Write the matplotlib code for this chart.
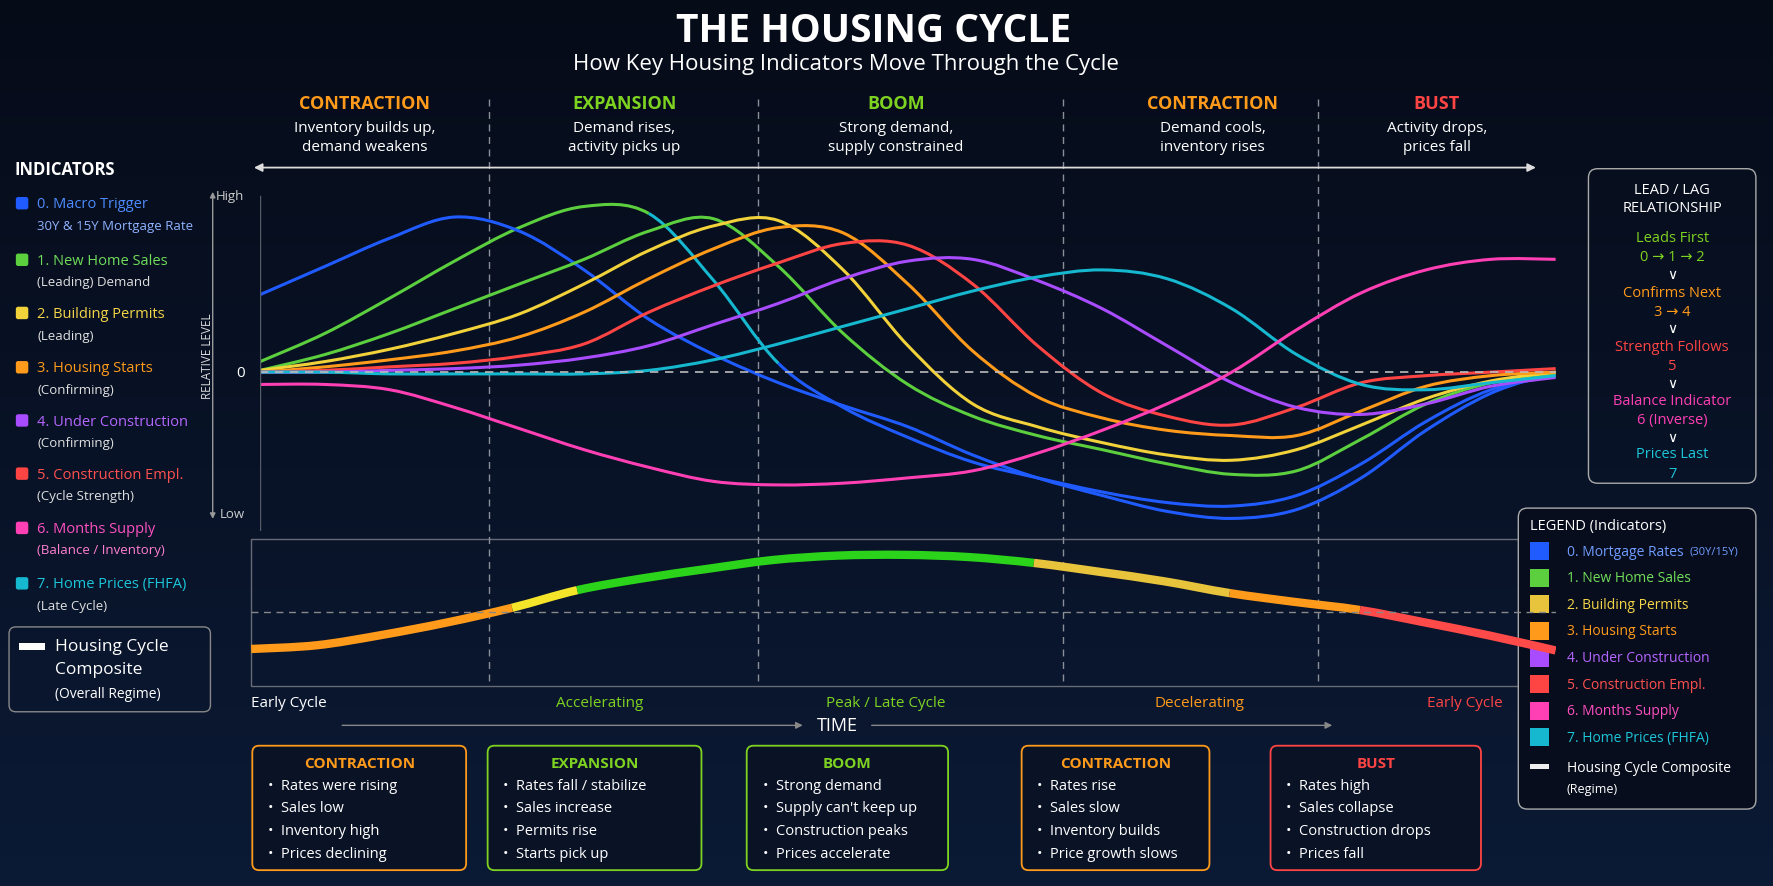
import numpy as np
import matplotlib
matplotlib.use("Agg")
import matplotlib.pyplot as plt
from matplotlib.patches import FancyBboxPatch, Rectangle, PathPatch
from matplotlib.path import Path

plt.rcParams['font.family'] = ['Open Sans', 'DejaVu Sans']

# ---- data (relative level) ----
t = [0, 5, 10, 15, 20, 25, 30, 35, 40, 45, 50, 55, 60, 65, 70, 75, 80, 85, 90, 95, 100]

mortgage = [.44, .6, .76, .88, .8, .58, .3, .1, -.06, -.19, -.31, -.47, -.6, -.7, -.79, -.83, -.78, -.6, -.33, -.12, .0]
sales_echo = [.06, .22, .42, .63, .82, .94, .9, .52, .05, -.2, -.37, -.51, -.6, -.68, -.74, -.76, -.7, -.52, -.28, -.1, -.02]
new_sales = [.01, .1, .22, .36, .5, .64, .8, .87, .6, .22, -.07, -.25, -.36, -.44, -.52, -.58, -.56, -.38, -.18, -.06, -.01]
permits = [.01, .06, .13, .22, .33, .5, .69, .83, .86, .58, .15, -.18, -.31, -.4, -.47, -.5, -.44, -.3, -.15, -.05, 0]
starts = [0, .03, .07, .12, .2, .34, .53, .7, .82, .79, .5, .12, -.14, -.26, -.33, -.36, -.36, -.22, -.08, -.02, 0]
under_constr = [0, 0, .01, .02, .04, .08, .15, .27, .39, .53, .63, .64, .52, .36, .15, -.06, -.2, -.24, -.18, -.08, -.03]
constr_empl = [0, .01, .03, .05, .09, .16, .34, .49, .62, .73, .72, .5, .15, -.12, -.25, -.3, -.2, -.06, -.02, 0, .02]
months_supply = [-.07, -.07, -.1, -.2, -.32, -.44, -.54, -.62, -.64, -.63, -.6, -.56, -.46, -.33, -.18, 0, .24, .45, .58, .64, .64]
home_prices = [0, 0, -.01, -.01, -.01, -.01, .01, .07, .16, .26, .36, .46, .54, .58, .53, .36, .1, -.07, -.1, -.06, -.02]

composite = [-.5, -.45, -.31, -.14, .06, .3, .46, .59, .71, .77, .78, .75, .67, .55, .42, .26, .14, .03, -.14, -.32, -.52]

BLUE, GREEN, YELLOW, ORANGE = '#1f5bff', '#5ccf3f', '#f2d23a', '#ff9a1a'
PURPLE, RED, PINK, TEAL = '#a94cff', '#ff4444', '#ff3fb4', '#16b8d0'
LGREEN = '#7ed321'

W, H = 1568, 784


def P(x, y):
    return x / W, 1 - y / H


def txt(x, y, s, **kw):
    kw.setdefault('color', 'white')
    kw.setdefault('ha', 'center')
    kw.setdefault('va', 'center')
    fig.text(*P(x, y), s, **kw)


def smooth(axis, xs, ys, a, b, color, lw):
    # Catmull-Rom through the data points, drawn as cubic Bezier segments
    verts, codes = [(xs[a], ys[a])], [Path.MOVETO]
    for i in range(a, b):
        p0 = (xs[max(i - 1, 0)], ys[max(i - 1, 0)])
        p1, p2 = (xs[i], ys[i]), (xs[i + 1], ys[i + 1])
        p3 = (xs[min(i + 2, len(xs) - 1)], ys[min(i + 2, len(xs) - 1)])
        c1 = (p1[0] + (p2[0] - p0[0]) / 6, p1[1] + (p2[1] - p0[1]) / 6)
        c2 = (p2[0] - (p3[0] - p1[0]) / 6, p2[1] - (p3[1] - p1[1]) / 6)
        verts += [c1, c2, p2]
        codes += [Path.CURVE4] * 3
    axis.add_patch(PathPatch(Path(verts, codes), fc='none', ec=color, lw=lw, capstyle='butt'))


fig = plt.figure(figsize=(17.74, 8.87), dpi=100)

bg = fig.add_axes([0, 0, 1, 1], zorder=-10)
grad = np.linspace(0, 1, 256).reshape(-1, 1)
bg.imshow(grad, aspect='auto', cmap=matplotlib.colors.LinearSegmentedColormap.from_list('bg', ['#060b18', '#0b1a35']),
          extent=[0, 1, 0, 1])
bg.axis('off')

ov = fig.add_axes([0, 0, 1, 1], zorder=-5)
ov.set_xlim(0, W)
ov.set_ylim(H, 0)
ov.axis('off')
ov.patch.set_alpha(0)

txt(772, 28, 'THE HOUSING CYCLE', fontsize=28, fontweight='bold')
txt(748, 57, 'How Key Housing Indicators Move Through the Cycle', fontsize=16)

phases = [(322, 'CONTRACTION', ORANGE, 'Inventory builds up,\ndemand weakens'),
          (552, 'EXPANSION', LGREEN, 'Demand rises,\nactivity picks up'),
          (792, 'BOOM', LGREEN, 'Strong demand,\nsupply constrained'),
          (1072, 'CONTRACTION', ORANGE, 'Demand cools,\ninventory rises'),
          (1270, 'BUST', RED, 'Activity drops,\nprices fall')]
for x, name, c, desc in phases:
    txt(x, 92, name, color=c, fontsize=13, fontweight='bold')
    txt(x, 122, desc, fontsize=11, linespacing=1.4)

ov.annotate('', xy=(222, 149), xytext=(1360, 149),
            arrowprops=dict(arrowstyle='<|-|>', color='#dddddd', lw=1.3, mutation_scale=12))
for x in [432, 670, 940, 1165]:
    ov.plot([x, x], [88, 607], ls=(0, (5, 4)), color='#8a8f99', lw=1)

ax = fig.add_axes([230 / W, 1 - 470 / H, (1375 - 230) / W, 310 / H])
ax.set_xlim(0, 100)
ax.set_ylim(-0.9, 1.09)
ax.axis('off')
ax.patch.set_alpha(0)
ax.axhline(0, color='#bbbbbb', ls=(0, (5, 4)), lw=1.2)
ax.plot([0, 0], [-0.9, 1.0], color='#555c66', lw=1)

n = len(t) - 1
smooth(ax, t, sales_echo, 0, 6, GREEN, 2.2)
smooth(ax, t, sales_echo, 6, 8, TEAL, 2.2)
smooth(ax, t, sales_echo, 8, n, BLUE, 2.2)
for ys, c in [(mortgage, BLUE), (new_sales, GREEN), (permits, YELLOW), (starts, ORANGE),
              (constr_empl, RED), (under_constr, PURPLE), (home_prices, TEAL), (months_supply, PINK)]:
    smooth(ax, t, ys, 0, n, c, 2.2)

txt(216, 174, 'High', fontsize=9.5, color='#cccccc', ha='right')
txt(216, 330, '0', fontsize=11, ha='right')
txt(216, 455, 'Low', fontsize=9.5, color='#cccccc', ha='right')
ov.annotate('', xy=(188, 168), xytext=(188, 462),
            arrowprops=dict(arrowstyle='<|-|>', color='#999999', lw=1, mutation_scale=8))
txt(183, 315, 'RELATIVE LEVEL', fontsize=8.5, rotation=90, color='#dddddd')

ov.add_patch(Rectangle((222, 477), 1153, 130, fill=False, ec='#666b75', lw=1))
cx = fig.add_axes([222 / W, 1 - 607 / H, 1153 / W, 130 / H])
cx.set_xlim(0, 100)
cx.set_ylim(-1.0, 1.0)
cx.axis('off')
cx.patch.set_alpha(0)
cx.axhline(0, color='#888888', ls=(0, (5, 4)), lw=1)
for a, b, c in [(0, 4, ORANGE), (4, 5, '#f5e52a'), (5, 12, '#2bd31a'), (12, 15, '#e8c33c'),
                (15, 17, ORANGE), (17, 20, '#ff4a4a')]:
    smooth(cx, t, composite, a, b, c, 6)

for x, s, c, ha in [(222, 'Early Cycle', 'white', 'left'), (530, 'Accelerating', LGREEN, 'center'),
                    (783, 'Peak / Late Cycle', LGREEN, 'center'), (1060, 'Decelerating', ORANGE, 'center'),
                    (1328, 'Early Cycle', RED, 'right')]:
    txt(x, 622, s, color=c, fontsize=11, ha=ha)
ov.annotate('', xy=(300, 642), xytext=(712, 642), arrowprops=dict(arrowstyle='<|-', color='#888888', lw=1))
ov.annotate('', xy=(1180, 642), xytext=(768, 642), arrowprops=dict(arrowstyle='-|>', color='#888888', lw=1))
txt(740, 642, 'TIME', fontsize=13)

boxes = [(223, 412, 'CONTRACTION', ORANGE, ['Rates were rising', 'Sales low', 'Inventory high', 'Prices declining']),
         (431, 620, 'EXPANSION', LGREEN, ['Rates fall / stabilize', 'Sales increase', 'Permits rise', 'Starts pick up']),
         (660, 838, 'BOOM', LGREEN, ['Strong demand', "Supply can't keep up", 'Construction peaks', 'Prices accelerate']),
         (903, 1069, 'CONTRACTION', ORANGE, ['Rates rise', 'Sales slow', 'Inventory builds', 'Price growth slows']),
         (1123, 1309, 'BUST', RED, ['Rates high', 'Sales collapse', 'Construction drops', 'Prices fall'])]
for x0, x1, name, c, items in boxes:
    ov.add_patch(FancyBboxPatch((x0, 660), x1 - x0, 110, boxstyle='round,pad=0,rounding_size=6',
                                fc='#0a1226', ec=c, lw=1.3))
    txt((x0 + x1) / 2, 675, name, color=c, fontsize=11, fontweight='bold')
    for i, it in enumerate(items):
        txt(x0 + 14, 695 + 20 * i, '•  ' + it, fontsize=10.5, ha='left')

txt(13, 150, 'INDICATORS', fontsize=12, fontweight='bold', ha='left')
left = [(181, BLUE, '#4d8cff', '0. Macro Trigger', '30Y & 15Y Mortgage Rate', '#8fb3ff'),
        (231, GREEN, '#6fdc5a', '1. New Home Sales', '(Leading) Demand', '#e0e0e0'),
        (278, YELLOW, '#f5d547', '2. Building Permits', '(Leading)', '#e0e0e0'),
        (326, ORANGE, ORANGE, '3. Housing Starts', '(Confirming)', '#e0e0e0'),
        (373, PURPLE, '#b566ff', '4. Under Construction', '(Confirming)', '#e0e0e0'),
        (420, RED, '#ff5050', '5. Construction Empl.', '(Cycle Strength)', '#e0e0e0'),
        (468, PINK, '#ff4fc0', '6. Months Supply', '(Balance / Inventory)', '#ff7fd0'),
        (517, TEAL, '#1cc6d9', '7. Home Prices (FHFA)', '(Late Cycle)', '#e0e0e0')]
for y, sq, c, name, sub, c2 in left:
    ov.add_patch(FancyBboxPatch((14, y - 6), 11, 11, boxstyle='round,pad=0,rounding_size=2', fc=sq, ec='none'))
    txt(33, y, name, color=c, fontsize=10.5, ha='left')
    txt(33, y + 19, sub, color=c2, fontsize=9.5, ha='left')

ov.add_patch(FancyBboxPatch((8, 555), 178, 75, boxstyle='round,pad=0,rounding_size=6',
                            fc='none', ec='#888888', lw=1))
ov.add_patch(Rectangle((17, 569), 23, 6, fc='white', ec='none'))
txt(49, 572, 'Housing Cycle', fontsize=12.5, ha='left')
txt(49, 592, 'Composite', fontsize=12.5, ha='left')
txt(49, 614, '(Overall Regime)', fontsize=10, ha='left')

ov.add_patch(FancyBboxPatch((1404, 150), 148, 278, boxstyle='round,pad=0,rounding_size=8',
                            fc='none', ec='#aaaaaa', lw=1))
txt(1478, 168, 'LEAD / LAG', fontsize=10.5)
txt(1478, 184, 'RELATIONSHIP', fontsize=10.5)
lead = [(211, 'Leads First', '0 → 1 → 2', LGREEN), (259, 'Confirms Next', '3 → 4', ORANGE),
        (307, 'Strength Follows', '5', RED), (355, 'Balance Indicator', '6 (Inverse)', PINK),
        (402, 'Prices Last', '7', '#1cc6d9')]
for i, (y, a, b, c) in enumerate(lead):
    txt(1478, y, a, color=c, fontsize=10.5)
    txt(1478, y + 17, b, color=c, fontsize=10.5)
    if i < 4:
        txt(1478, y + 32, '∨', fontsize=10, family=['DejaVu Sans'])

ov.add_patch(FancyBboxPatch((1342, 450), 210, 266, boxstyle='round,pad=0,rounding_size=8',
                            fc='#070d1c', ec='#aaaaaa', lw=1))
txt(1352, 465, 'LEGEND (Indicators)', fontsize=10.5, ha='left')
leg = [(BLUE, '0. Mortgage Rates', '#6f9cff'), (GREEN, '1. New Home Sales', '#6fdc5a'),
       ('#e8c33c', '2. Building Permits', '#f5d547'), (ORANGE, '3. Housing Starts', ORANGE),
       (PURPLE, '4. Under Construction', '#b566ff'), (RED, '5. Construction Empl.', '#ff5050'),
       (PINK, '6. Months Supply', '#ff4fc0'), (TEAL, '7. Home Prices (FHFA)', '#1cc6d9')]
for i, (sq, s, c) in enumerate(leg):
    y = 488 + 23.5 * i
    ov.add_patch(Rectangle((1352, y - 8), 17, 16, fc=sq, ec='none'))
    txt(1385, y, s, color=c, fontsize=10, ha='left')
txt(1493, 488, '(30Y/15Y)', color='#6f9cff', fontsize=8, ha='left')
ov.add_patch(Rectangle((1352, 676), 17, 5, fc='#eeeeee', ec='none'))
txt(1385, 679, 'Housing Cycle Composite', fontsize=10, ha='left')
txt(1385, 698, '(Regime)', fontsize=9, ha='left')

fig.savefig('out.png', dpi=100)
